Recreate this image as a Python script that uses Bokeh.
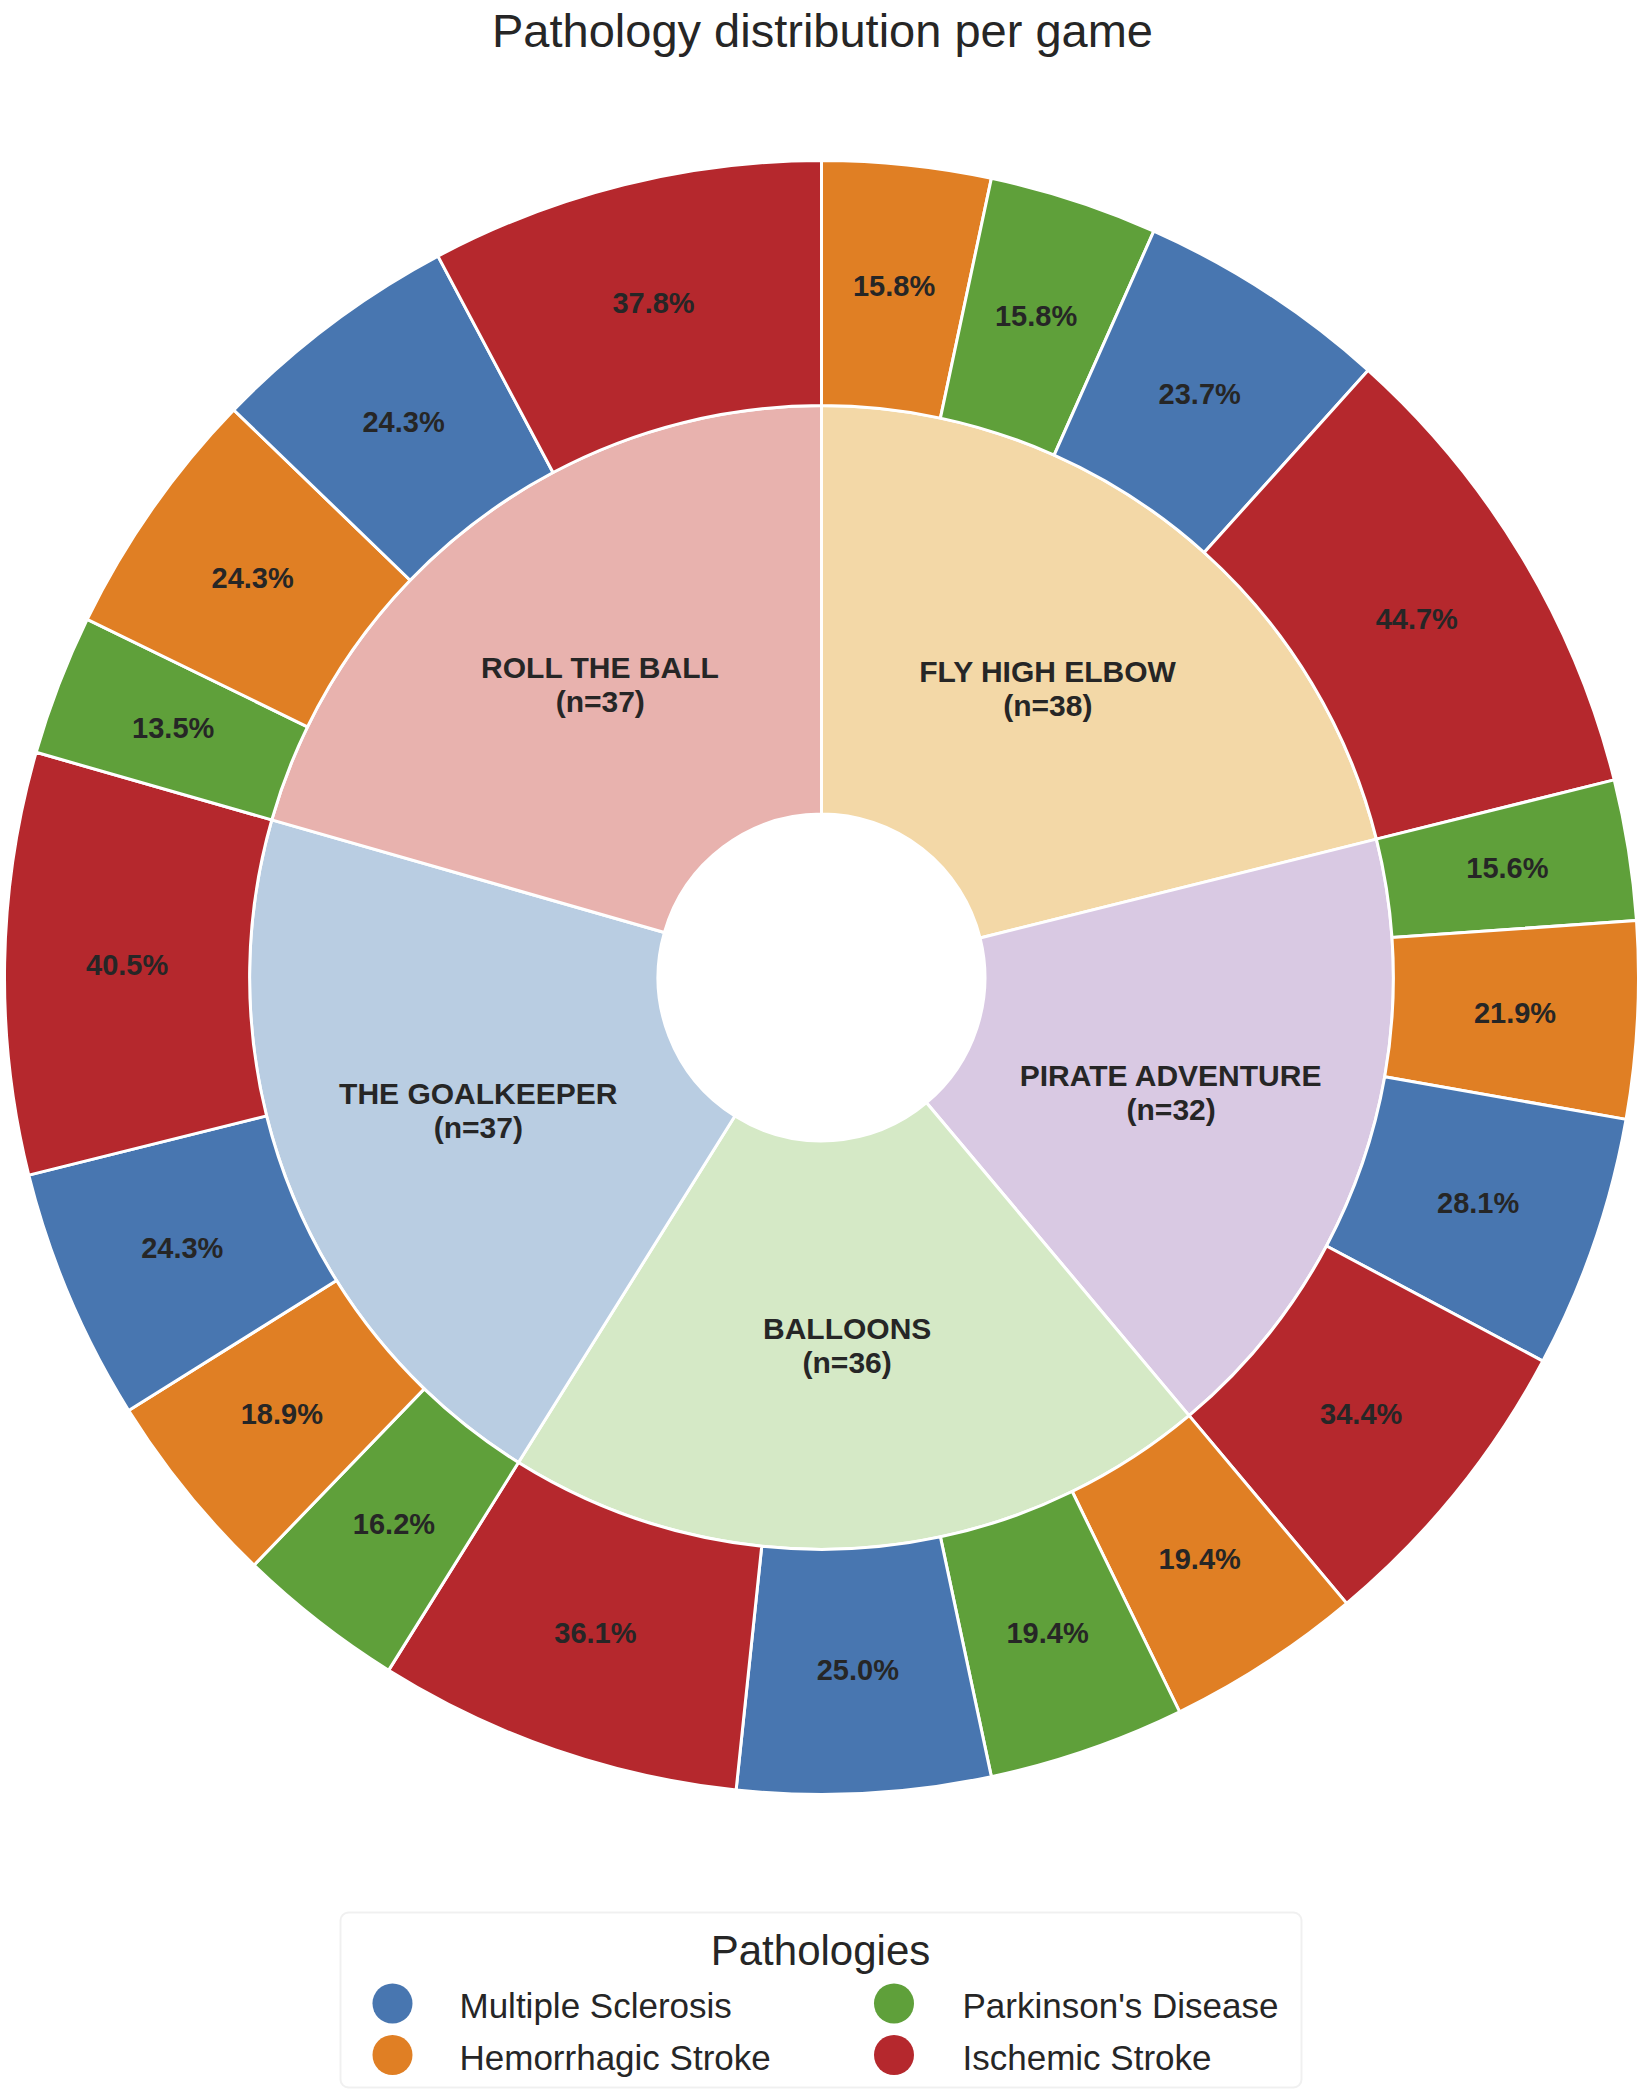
import numpy as np
from bokeh.plotting import figure
from bokeh.models import Range1d, BoxAnnotation
from bokeh.core.properties import value
from bokeh.embed import file_html
from bokeh.resources import INLINE

# ---------------- data ----------------
games = ["FLY HIGH ELBOW", "PIRATE ADVENTURE", "BALLOONS", "THE GOALKEEPER", "ROLL THE BALL"]
game_colors = ["#f3d8a7", "#d9c9e3", "#d5e9c6", "#b9cde2", "#e8b2ae"]
pathologies = ["Hemorrhagic Stroke", "Parkinson's Disease", "Multiple Sclerosis", "Ischemic Stroke"]
path_colors = {"Multiple Sclerosis": "#4876b0", "Hemorrhagic Stroke": "#e07f24",
               "Parkinson's Disease": "#5fa03a", "Ischemic Stroke": "#b5282d"}
hemorrhagic = [6, 7, 7, 7, 9]
parkinson = [6, 5, 7, 6, 5]
multiple_sclerosis = [9, 9, 9, 9, 9]
ischemic = [17, 11, 13, 15, 14]
legend_order = ["Multiple Sclerosis", "Parkinson's Disease", "Hemorrhagic Stroke", "Ischemic Stroke"]
title_text = "Pathology distribution per game"
legend_title = "Pathologies"

# ---------------- layout ----------------
W, H = 1640, 2090
PAGE_H = 2094
def Y(yr):
    return PAGE_H - yr

FONT = value("Liberation Sans")
TXT = "#262626"
K = 0.29  # baseline correction (fraction of font size)
cx, cy = 821.0, Y(977.0)
R = 817.0

p = figure(width=W, height=H, output_backend="svg", toolbar_location=None,
           x_range=Range1d(0, W), y_range=Range1d(PAGE_H - H, PAGE_H),
           min_border=0, outline_line_color=None)
p.axis.visible = False
p.grid.visible = False
p.background_fill_color = "white"
p.border_fill_color = "white"

counts = {"Hemorrhagic Stroke": hemorrhagic, "Parkinson's Disease": parkinson,
          "Multiple Sclerosis": multiple_sclerosis, "Ischemic Stroke": ischemic}
game_n = [sum(counts[k][i] for k in pathologies) for i in range(len(games))]
total = sum(game_n)

# inner ring
cum = np.concatenate([[0], np.cumsum(game_n)])
a0 = np.pi / 2 - 2 * np.pi * cum[:-1] / total
a1 = np.pi / 2 - 2 * np.pi * cum[1:] / total
p.annular_wedge(x=cx, y=cy, inner_radius=0.2 * R, outer_radius=0.7 * R,
                start_angle=list(a1), end_angle=list(a0), direction="anticlock",
                fill_color=game_colors, line_color="white", line_width=3)

# outer ring
seg_vals, seg_cols, seg_lab = [], [], []
for i, g in enumerate(games):
    order = sorted(range(len(pathologies)), key=lambda k: (counts[pathologies[k]][i], k))
    for k in order:
        v = counts[pathologies[k]][i]
        seg_vals.append(v)
        seg_cols.append(path_colors[pathologies[k]])
        seg_lab.append("%.1f%%" % (100.0 * v / game_n[i]))
ocum = np.concatenate([[0], np.cumsum(seg_vals)])
o0 = np.pi / 2 - 2 * np.pi * ocum[:-1] / total
o1 = np.pi / 2 - 2 * np.pi * ocum[1:] / total
p.annular_wedge(x=cx, y=cy, inner_radius=0.7 * R, outer_radius=R,
                start_angle=list(o1), end_angle=list(o0), direction="anticlock",
                fill_color=seg_cols, line_color="white", line_width=3)

# percentage labels
om = (o0 + o1) / 2
px = cx + 0.85 * R * np.cos(om)
py = cy + 0.85 * R * np.sin(om) - 7.7 + K * 29
p.text(x=list(px), y=list(py), text=seg_lab, text_font=FONT, text_font_size="29px",
       text_font_style="bold", text_color=TXT, text_align="center", text_baseline="alphabetic")

# game labels
gm = (a0 + a1) / 2
gx = cx + 0.45 * R * np.cos(gm)
gy = cy + 0.45 * R * np.sin(gm)
p.text(x=list(gx), y=list(gy + 7.4 + K * 30), text=games, text_font=FONT, text_font_size="30px",
       text_font_style="bold", text_color=TXT, text_align="center", text_baseline="alphabetic")
p.text(x=list(gx), y=list(gy - 26.6 + K * 30), text=["(n=%d)" % n for n in game_n], text_font=FONT,
       text_font_size="30px", text_font_style="bold", text_color=TXT, text_align="center",
       text_baseline="alphabetic")

# title
p.text(x=[822], y=[Y(44) + K * 47], text=[title_text], text_font=FONT, text_font_size="47px",
       text_color=TXT, text_align="center", text_baseline="alphabetic")

# legend (drawn manually)
box = BoxAnnotation(left=340, right=1301, top=Y(1912), bottom=Y(2087), fill_color=None,
                    line_color="#cccccc", line_width=2, border_radius=8, level="underlay")
p.add_layout(box)
p.text(x=[820], y=[Y(1962) + K * 42], text=[legend_title], text_font=FONT, text_font_size="42px",
       text_color=TXT, text_align="center", text_baseline="alphabetic")
col_marker_x = [392, 893.5]
col_text_x = [459, 962]
row_marker_y = [2003, 2054.5]
row_text_y = [2015, 2067]
lx, ly, lc, tx, ty, tl = [], [], [], [], [], []
for j, name in enumerate(legend_order):
    c, r = j % 2, j // 2
    lx.append(col_marker_x[c]); ly.append(Y(row_marker_y[r])); lc.append(path_colors[name])
    tx.append(col_text_x[c]); ty.append(Y(row_text_y[r]) + K * 35); tl.append(name)
p.scatter(x=lx, y=ly, size=40, marker="circle", fill_color=lc, line_color=None)
p.text(x=tx, y=ty, text=tl, text_font=FONT, text_font_size="35px", text_color=TXT,
       text_align="left", text_baseline="alphabetic")

open("out.html", "w").write(file_html(p, INLINE))
